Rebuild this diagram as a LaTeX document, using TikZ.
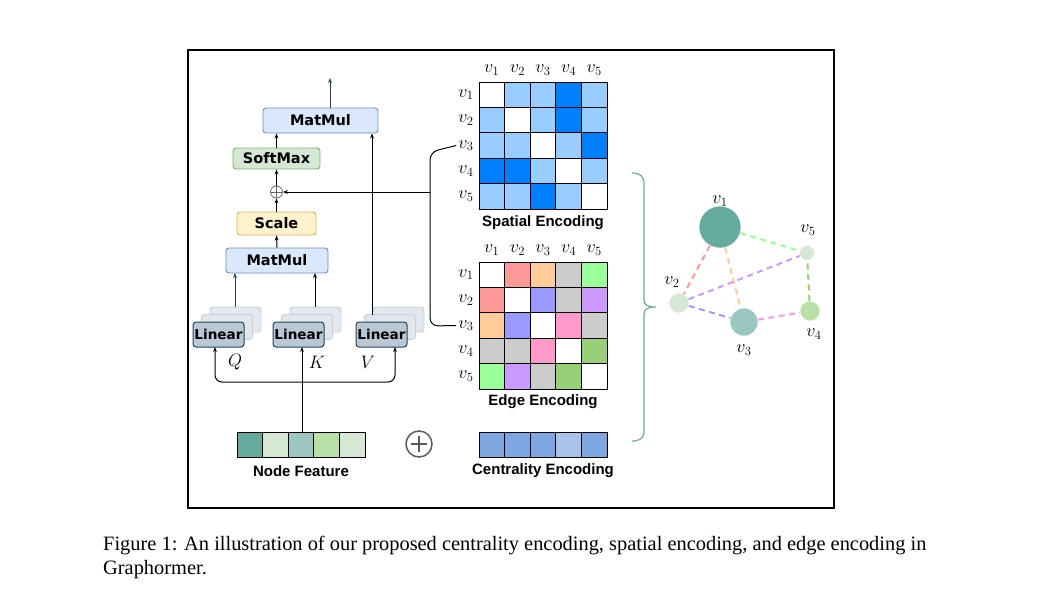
\RequirePackage{fix-cm}
\documentclass[tikz,border=0pt]{standalone}
\usepackage{fontspec}
\setmainfont{Liberation Serif}
\newfontfamily\dvs{DejaVu Sans}
\newfontfamily\arl{Liberation Sans}
\usetikzlibrary{arrows.meta,calc}
\definecolor{mmfill}{HTML}{DAE8FC}\definecolor{mmdraw}{HTML}{6C8EBF}
\definecolor{smfill}{HTML}{D5E8D4}\definecolor{smdraw}{HTML}{82B366}
\definecolor{scfill}{HTML}{FFF2CC}\definecolor{scdraw}{HTML}{D6B656}
\definecolor{lnfill}{HTML}{BAC8D3}\definecolor{lndraw}{HTML}{23445D}
\definecolor{lbfill}{HTML}{E1E7EC}\definecolor{lbdraw}{HTML}{C5D0D9}
\definecolor{spW}{HTML}{FFFFFF}\definecolor{spL}{HTML}{99CCFF}\definecolor{spD}{HTML}{007FFF}
\definecolor{edW}{HTML}{FFFFFF}\definecolor{edR}{HTML}{FF9999}\definecolor{edO}{HTML}{FFCC99}
\definecolor{edG}{HTML}{CCCCCC}\definecolor{edN}{HTML}{99FF99}\definecolor{edB}{HTML}{9999FF}
\definecolor{edP}{HTML}{CC99FF}\definecolor{edK}{HTML}{FF99CC}\definecolor{edD}{HTML}{97D077}
\definecolor{edge35}{HTML}{FF99EE}
\definecolor{nfA}{HTML}{67AB9F}\definecolor{nfB}{HTML}{D5E8D4}\definecolor{nfC}{HTML}{9AC7BF}
\definecolor{nfD}{HTML}{B9E0A5}\definecolor{ceA}{HTML}{7EA6E0}\definecolor{ceB}{HTML}{A9C4EB}
\begin{document}
\begin{tikzpicture}[x=1pt,y=-1pt,
  opbox/.style={draw, rounded corners=3pt, line width=0.9pt, inner sep=0pt,
    font=\dvs\bfseries\fontsize{14.5}{16}\selectfont},
  linbox/.style={draw=lndraw, fill=lnfill, rounded corners=3pt, line width=1pt, inner sep=0pt,
    minimum width=51pt, minimum height=25pt, font=\dvs\bfseries\fontsize{13.6}{15}\selectfont},
  linback/.style={draw=lbdraw, fill=lbfill, rounded corners=3pt, line width=0.9pt,
    minimum width=51pt, minimum height=25pt},
  arr/.style={-{Stealth[length=5pt,width=3.8pt]}, line width=1pt},
  lab/.style={font=\fontsize{18}{21}\selectfont, inner sep=0pt},
  enctxt/.style={font=\arl\bfseries\fontsize{15}{18}\selectfont, inner sep=0pt},
  cell/.style={line width=0.9pt},
  gedge/.style={line width=2pt, dash pattern=on 6pt off 4.5pt},
  gnode/.style={circle, inner sep=0pt, draw=white, line width=0.5pt},
  captxt/.style={anchor=base west, inner sep=0pt, font=\fontsize{20.4}{24}\selectfont}
]
\useasboundingbox (0,0) rectangle (1044,603);
\draw[line width=1.2pt] (188,50) rectangle (834,508);

% ---- attention block ----
\node[opbox, draw=mmdraw, fill=mmfill, minimum width=115pt, minimum height=25pt] (mm2) at (320.5,120.5) {MatMul};
\node[opbox, draw=smdraw, fill=smfill, minimum width=87pt, minimum height=21pt] (sm) at (276.5,158.5) {SoftMax};
\node[circle, draw=black!60, fill=white, line width=0.8pt, minimum size=12pt, inner sep=0pt] (op1) at (276.5,192) {};
\draw[black!60, line width=0.8pt] (op1.north) -- (op1.south) (op1.west) -- (op1.east);
\node[opbox, draw=scdraw, fill=scfill, minimum width=79pt, minimum height=23pt] (sc) at (276.5,223.5) {Scale};
\node[opbox, draw=mmdraw, fill=mmfill, minimum width=102pt, minimum height=25pt] (mm1) at (277,260.5) {MatMul};

\coordinate (out) at (330,78);
\draw[arr, lndraw] (mm2.north -| out) -- (out);
\draw[arr] (sm.north) -- (sm.north |- mm2.south);
\draw[arr] (op1.north) -- (sm.south);
\draw[arr] (sc.north) -- (op1.south);
\draw[arr] (mm1.north) -- (sc.south);

% Linear stacks
\foreach \n/\x in {q/218.5, k/298.5, v/381.5}{
  \node[linback] (\n b2) at (\x+17,319.5) {};
  \node[linback] (\n b1) at (\x+8.5,327) {};
  \node[linbox] (\n l) at (\x,334.5) {Linear};
}
\draw[arr, lndraw] (235,307) -- (235,273);
\draw[arr] (315,307) -- (315,273);
\coordinate (vtop) at (372,314.5);
\draw[arr] (vtop) -- (vtop |- mm2.south);

\node[lab] (Q) at (235,362) {$Q$};
\node[lab] (K) at (317,362) {$K$};
\node[lab] (V) at (368,362) {$V$};

% inputs
\coordinate (qin) at (215,347);
\coordinate (kin) at (302,347);
\coordinate (vin) at (395,347);
\coordinate (split) at (302,382);
\draw[arr, rounded corners=7pt] (split) -| (qin);
\draw[arr, rounded corners=7pt] (split) -| (vin);

% ---- spatial matrix ----
\foreach \r/\row in {0/{W,L,L,D,L},1/{L,W,L,D,L},2/{L,L,W,L,D},3/{D,D,L,W,L},4/{L,L,D,L,W}}{
  \foreach \c [count=\ci from 0] in \row {
    \draw[cell, fill=sp\c] (479+\ci*25.6,82+\r*25.4) rectangle ++(25.6,25.4);
  }
}
\foreach \i in {1,...,5}{
  \node[lab] (spc\i) at (479+\i*25.6-12.8,70) {$v_\i$};
  \node[lab] (spr\i) at (466,82+\i*25.4-12.7) {$v_\i$};
}
\node[enctxt] (sptxt) at (543,223) {Spatial Encoding};

% ---- edge matrix ----
\foreach \r/\row in {0/{W,R,O,G,N},1/{R,W,B,G,P},2/{O,B,W,K,G},3/{G,G,K,W,D},4/{N,P,G,D,W}}{
  \foreach \c [count=\ci from 0] in \row {
    \draw[cell, fill=ed\c] (479+\ci*25.6,262+\r*25.4) rectangle ++(25.6,25.4);
  }
}
\foreach \i in {1,...,5}{
  \node[lab] (edc\i) at (479+\i*25.6-12.8,250) {$v_\i$};
  \node[lab] (edr\i) at (466,262+\i*25.4-12.7) {$v_\i$};
}
\node[enctxt] (edtxt) at (543,402) {Edge Encoding};

% bracket and attention bias arrow
\draw[line width=1pt, rounded corners=8pt] ($(spr3.west)+(-2,0)$) -- (430,152) -- (430,326) -- ($(edr3.west)+(-2,0)$);
\coordinate (bias) at (430,192);
\draw[arr] (bias) -- (op1.east);

% ---- bottom row ----
\foreach \c [count=\ci from 0] in {nfA,nfB,nfC,nfD,nfB}{
  \draw[cell, fill=\c] (237+\ci*25.6,432) rectangle ++(25.6,25);
}
\coordinate (nftop) at (302,432);
\draw[arr] (nftop) -- (kin);
\node[enctxt] (nftxt) at (301,471) {Node Feature};
\node[circle, draw=black!65, line width=1.5pt, minimum size=26pt, inner sep=0pt] (op2) at (419,444) {};
\draw[black!65, line width=1.5pt] ($(op2.center)+(0,-8)$) -- ($(op2.center)+(0,8)$) ($(op2.center)+(-8,0)$) -- ($(op2.center)+(8,0)$);
\foreach \c [count=\ci from 0] in {ceA,ceA,ceA,ceB,ceA}{
  \draw[cell, fill=\c] (479+\ci*25.6,432) rectangle ++(25.6,25);
}
\node[enctxt] (cetxt) at (543,471) {Centrality Encoding};

% ---- brace ----
\draw[nfA, line width=1.2pt] (632,173) .. controls (640,173) and (644,176) .. (644,184) -- (644,299)
  .. controls (644,305) and (647,307) .. (656,307) .. controls (647,307) and (644,309) .. (644,315)
  -- (644,431) .. controls (644,438) and (640,441) .. (632,441);

% ---- graph ----
\node[gnode, fill=nfA, minimum size=42pt] (g1) at (720,227) {};
\node[gnode, fill=nfB, minimum size=20pt] (g2) at (679,303) {};
\node[gnode, fill=nfC, minimum size=28pt] (g3) at (744,322) {};
\node[gnode, fill=nfD, minimum size=20pt] (g4) at (810,311) {};
\node[gnode, fill=nfB, minimum size=15pt] (g5) at (807,253) {};
\draw[gedge, edR] (g1) -- (g2);
\draw[gedge, edO] (g1) -- (g3);
\draw[gedge, edN] (g1) -- (g5);
\draw[gedge, edB] (g2) -- (g3);
\draw[gedge, edP] (g2) -- (g5);
\draw[gedge, edge35] (g3) -- (g4);
\draw[gedge, edD] (g4) -- (g5);
\node[lab] (gl1) at (720,201) {$v_1$};
\node[lab] (gl2) at (672,282) {$v_2$};
\node[lab] (gl3) at (744,350) {$v_3$};
\node[lab] (gl4) at (814,334) {$v_4$};
\node[lab] (gl5) at (808,230) {$v_5$};

% ---- caption ----
\node[captxt] (cap1) at (103,550)
  {Figure 1: An illustration of our proposed centrality encoding, spatial encoding, and edge encoding in};
\node[captxt] (cap2) at (103,574) {Graphormer.};
\end{tikzpicture}
\end{document}
